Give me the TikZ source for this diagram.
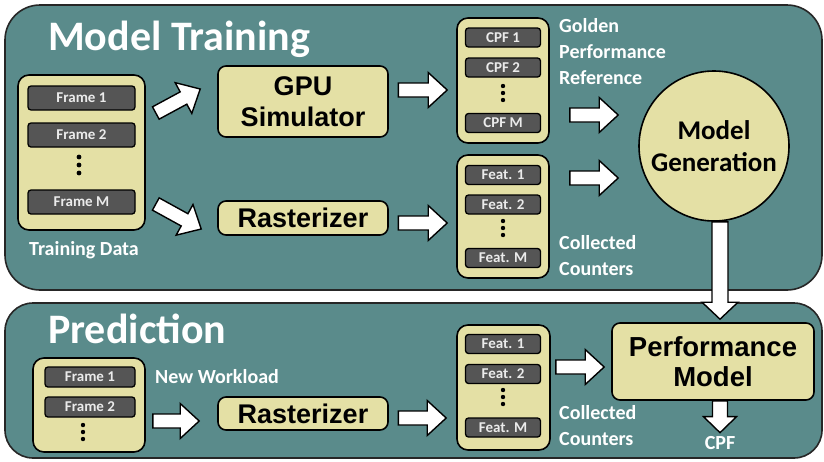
\documentclass[tikz,border=0pt]{standalone}
\usepackage{fontspec}
\setmainfont{Carlito}
\newfontfamily\arialfont{Liberation Sans}
\usetikzlibrary{calc}

% tail, tip, half shaft, half head, head length
\newcommand{\blockarrow}[5]{%
    \coordinate (fa-s) at (#1);
    \coordinate (fa-e) at (#2);
    \coordinate (fa-h) at ($(fa-e)!#5!(fa-s)$);
    \draw [fatline] ($(fa-s)!#3!90:(fa-e)$) -- ($(fa-h)!#3!90:(fa-e)$) -- ($(fa-h)!#4!90:(fa-e)$)
        -- (fa-e) -- ($(fa-h)!#4!-90:(fa-e)$) -- ($(fa-h)!#3!-90:(fa-e)$) -- ($(fa-s)!#3!-90:(fa-e)$) -- cycle;
}

\begin{document}
\begin{tikzpicture}[x=1pt, y=-1pt,
    panel/.style={draw=black!85, line width=1.6pt, fill=stage},
    holder/.style={draw=black, line width=1.6pt, fill=khaki, rounded corners=11pt, inner sep=0pt},
    item/.style={draw=black, line width=1.3pt, fill=slab, rounded corners=3pt, inner sep=0pt,
        text=white!92!black, font=\bfseries\fontsize{15}{15}\selectfont},
    unit/.style={draw=black, line width=1.6pt, fill=khaki, rounded corners=8pt, align=center,
        inner sep=0pt, font=\arialfont\bfseries\fontsize{27}{31}\selectfont},
    note/.style={text=white, align=left, inner sep=0pt, font=\bfseries\fontsize{20}{26}\selectfont},
    heading/.style={text=white, anchor=base west, inner sep=0pt, font=\bfseries\fontsize{42}{42}\selectfont},
    fatline/.style={draw=black, fill=white, line width=1.4pt, line join=miter}
]
    \definecolor{stage}{RGB}{90,139,139}
    \definecolor{khaki}{RGB}{228,224,165}
    \definecolor{slab}{RGB}{85,85,85}

    \useasboundingbox (0,0) rectangle (824,461);

    \draw [panel, rounded corners=35pt] (5,5) rectangle (822,290);
    \draw [panel, rounded corners=28pt] (5,303) rectangle (822,458);

    \node [heading] (trainhead) at (48,50) {Model Training};
    \node [heading] (predhead) at (48,343) {Prediction};

    % training side
    \node [holder, minimum width=127, minimum height=155] (train) at (81.5,152.5) {};
    \foreach \lbl/\y/\id in {Frame 1/98/tf1, Frame 2/135/tf2, Frame M/202/tfm}{
        \node [item, minimum width=107, minimum height=24] (\id) at (81.5,\y) {\lbl};
    }
    \foreach \d in {-8,0,8}{
        \fill (79,165+\d) circle[radius=2.4pt];
    }
    \node [note, anchor=center] (traintxt) at (84,250) {Training Data};

    \node [unit, minimum width=170, minimum height=71] (gpu) at (303,101.5) {GPU\\Simulator};
    \node [unit, minimum width=170, minimum height=34] (rast) at (303,218) {Rasterizer};

    \node [holder, minimum width=92, minimum height=125] (cpf) at (503,80.5) {};
    \foreach \lbl/\y/\id in {CPF 1/37.5/c1, CPF 2/67.5/c2, CPF M/123/cm}{
        \node [item, minimum width=75, minimum height=19] (\id) at (503,\y) {\lbl};
    }
    \foreach \d in {-7,0,7}{
        \fill (503,93+\d) circle[radius=2.2pt];
    }
    \node [note, anchor=west] (goldtxt) at (559,52) {Golden\\Performance\\Reference};

    \node [holder, minimum width=92, minimum height=123] (feat) at (503,216.5) {};
    \foreach \lbl/\y/\id in {Feat. 1/175/ft1, Feat. 2/204.5/ft2, Feat. M/258/ftm}{
        \node [item, minimum width=75, minimum height=19] (\id) at (503,\y) {\lbl};
    }
    \foreach \d in {-7,0,7}{
        \fill (503,228+\d) circle[radius=2.2pt];
    }
    \node [note, anchor=west] (counttxt) at (559,255.5) {Collected\\Counters};

    \node [circle, draw=black, line width=1.6pt, fill=khaki, minimum size=150, inner sep=0pt, align=center,
        font=\bfseries\fontsize{27}{32}\selectfont] (mg) at (714,146) {Model\\Generation};

    % prediction side
    \node [holder, minimum width=112, minimum height=94] (work) at (89,405) {};
    \foreach \lbl/\y/\id in {Frame 1/377/wf1, Frame 2/407/wf2}{
        \node [item, minimum width=90, minimum height=20] (\id) at (90,\y) {\lbl};
    }
    \foreach \d in {-7,0,7}{
        \fill (83,432+\d) circle[radius=2.2pt];
    }
    \node [note, anchor=west] (worktxt) at (155,377) {New Workload};

    \node [unit, minimum width=170, minimum height=33] (rast2) at (303,413.5) {Rasterizer};

    \node [holder, minimum width=93, minimum height=125] (feat2) at (503.5,387.5) {};
    \foreach \lbl/\y/\id in {Feat. 1/344/pf1, Feat. 2/374/pf2, Feat. M/427.5/pfm}{
        \node [item, minimum width=75, minimum height=19] (\id) at (503,\y) {\lbl};
    }
    \foreach \d in {-7,0,7}{
        \fill (503,397+\d) circle[radius=2.2pt];
    }
    \node [note, anchor=west] (count2txt) at (559,425.5) {Collected\\Counters};

    \node [unit, minimum width=202, minimum height=77, font=\arialfont\bfseries\fontsize{27.5}{30}\selectfont]
        (perf) at (713,361.5) {Performance\\Model};
    \node [note, anchor=center] (cpfout) at (720,443) {CPF};

    % block arrows
    \blockarrow{[xshift=10pt,yshift=39.5pt]train.east}{[xshift=-17pt,yshift=12.5pt]gpu.west}{7pt}{17.5pt}{19pt}
    \blockarrow{[xshift=10pt,yshift=-51.5pt]train.east}{[xshift=-16pt,yshift=-11pt]rast.west}{7pt}{17.5pt}{19pt}
    \blockarrow{[xshift=9.5pt,yshift=11.5pt]gpu.east}{[xshift=-9pt,yshift=-9.5pt]cpf.west}{7pt}{17.5pt}{19pt}
    \blockarrow{[xshift=9.5pt,yshift=-5pt]rast.east}{[xshift=-9pt,yshift=-6.5pt]feat.west}{7pt}{17.5pt}{19pt}
    \blockarrow{[xshift=20pt,yshift=-34.5pt]cpf.east}{[xshift=-20pt,yshift=31pt]mg.west}{7pt}{17.5pt}{19pt}
    \blockarrow{[xshift=20pt,yshift=38.5pt]feat.east}{[xshift=-20pt,yshift=-32pt]mg.west}{7pt}{17.5pt}{19pt}
    \blockarrow{[xshift=7pt,yshift=-16pt]work.east}{[xshift=-18pt,yshift=-7.5pt]rast2.west}{7pt}{17.5pt}{19pt}
    \blockarrow{[xshift=9.5pt,yshift=-4.5pt]rast2.east}{[xshift=-10pt,yshift=-30.5pt]feat2.west}{7pt}{17.5pt}{19pt}
    \blockarrow{[xshift=5pt,yshift=20.5pt]feat2.east}{[xshift=-7pt,yshift=-5.5pt]perf.west}{7pt}{17.5pt}{19pt}
    \blockarrow{[xshift=6pt]mg.south}{[xshift=7pt,yshift=3pt]perf.north}{8pt}{18pt}{17pt}
    \blockarrow{[xshift=7pt]perf.south}{[yshift=3.5pt]cpfout.north}{7.5pt}{16.5pt}{16pt}
\end{tikzpicture}
\end{document}
